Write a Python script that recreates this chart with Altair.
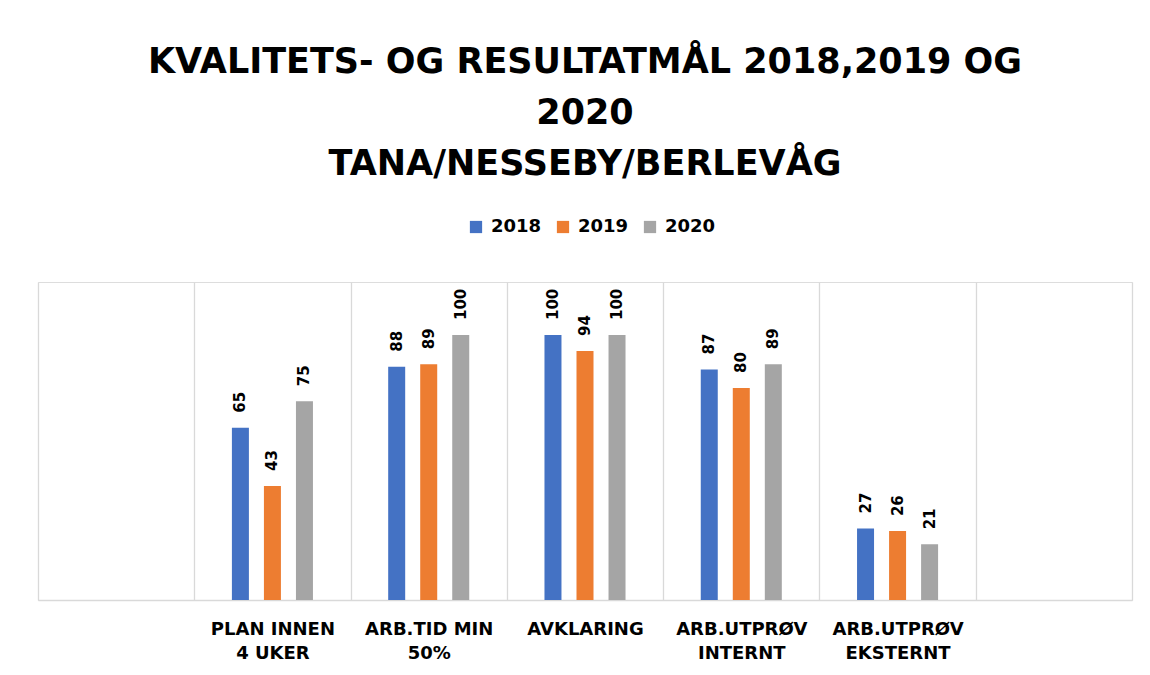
import altair as alt
import pandas as pd

# ---- data ----
categories = [" ", "PLAN INNEN\n4 UKER", "ARB.TID MIN\n50%", "AVKLARING",
              "ARB.UTPRØV\nINTERNT", "ARB.UTPRØV\nEKSTERNT", "  "]
measures = ["PLAN INNEN\n4 UKER", "ARB.TID MIN\n50%", "AVKLARING",
            "ARB.UTPRØV\nINTERNT", "ARB.UTPRØV\nEKSTERNT"]
years = ["2018", "2019", "2020"]
values_2018 = [65, 88, 100, 87, 27]
values_2019 = [43, 89, 94, 80, 26]
values_2020 = [75, 100, 100, 89, 21]
colors = ["#4472C4", "#ED7D31", "#A5A5A5"]
title_lines = ["KVALITETS- OG RESULTATMÅL 2018,2019 OG", "2020", "TANA/NESSEBY/BERLEVÅG"]

rows = []
for yr, vals in zip(years, [values_2018, values_2019, values_2020]):
    for m, v in zip(measures, vals):
        rows.append({"kategori": m, "år": yr, "verdi": v})
df = pd.DataFrame(rows)

FONT = "DejaVu Sans"

x_enc = alt.X(
    "kategori:N",
    scale=alt.Scale(domain=categories, paddingInner=0, paddingOuter=0),
    sort=categories,
    axis=alt.Axis(
        title=None,
        grid=True,
        tickBand="extent",
        gridColor="#D9D9D9",
        gridWidth=1.3,
        ticks=False,
        tickSize=0,
        domain=True,
        domainColor="#D9D9D9",
        domainWidth=1.5,
        labelAngle=0,
        labelFont=FONT,
        labelFontSize=18,
        labelFontWeight="bold",
        labelColor="#000000",
        labelPadding=20,
        labelLineHeight=24,
        labelLimit=300,
        labelExpr="split(datum.label, '\\n')",
    ),
)
y_enc = alt.Y(
    "verdi:Q",
    scale=alt.Scale(domain=[0, 120], nice=False),
    axis=None,
)
xoff = alt.XOffset(
    "år:N",
    sort=years,
    scale=alt.Scale(paddingInner=0, paddingOuter=0.94),
)

bars = alt.Chart(df).mark_bar(width=17).encode(
    x=x_enc,
    y=y_enc,
    xOffset=xoff,
    color=alt.Color(
        "år:N",
        sort=years,
        scale=alt.Scale(domain=years, range=colors),
        legend=alt.Legend(
            title=None,
            orient="none",
            direction="horizontal",
            legendX=429,
            legendY=-64,
            symbolType="square",
            symbolSize=150,
            symbolStrokeWidth=0,
            labelFont=FONT,
            labelFontSize=18,
            labelFontWeight="bold",
            labelColor="#000000",
            labelOffset=6,
            columnPadding=12,
            padding=0,
        ),
    ),
)

labels = alt.Chart(df).mark_text(
    angle=270,
    align="left",
    baseline="middle",
    dx=15,
    font=FONT,
    fontSize=15,
    fontWeight="bold",
    color="#000000",
).encode(
    x=x_enc,
    y=y_enc,
    xOffset=xoff,
    text=alt.Text("verdi:Q"),
)

chart = (
    alt.layer(bars, labels)
    .properties(
        width=1094,
        height=318,
        title=alt.TitleParams(
            text=title_lines,
            font=FONT,
            fontSize=35,
            fontWeight="bold",
            color="#000000",
            lineHeight=51,
            anchor="middle",
            frame="group",
            baseline="bottom",
            offset=1,
        ),
        autosize=alt.AutoSizeParams(type="none"),
        padding={"left": 30, "top": 274, "right": 8, "bottom": 67},
    )
    .configure_view(stroke=None)
    .configure(background="#FFFFFF")
)

chart.save("out.html", embed_options={"renderer": "svg", "actions": False})
